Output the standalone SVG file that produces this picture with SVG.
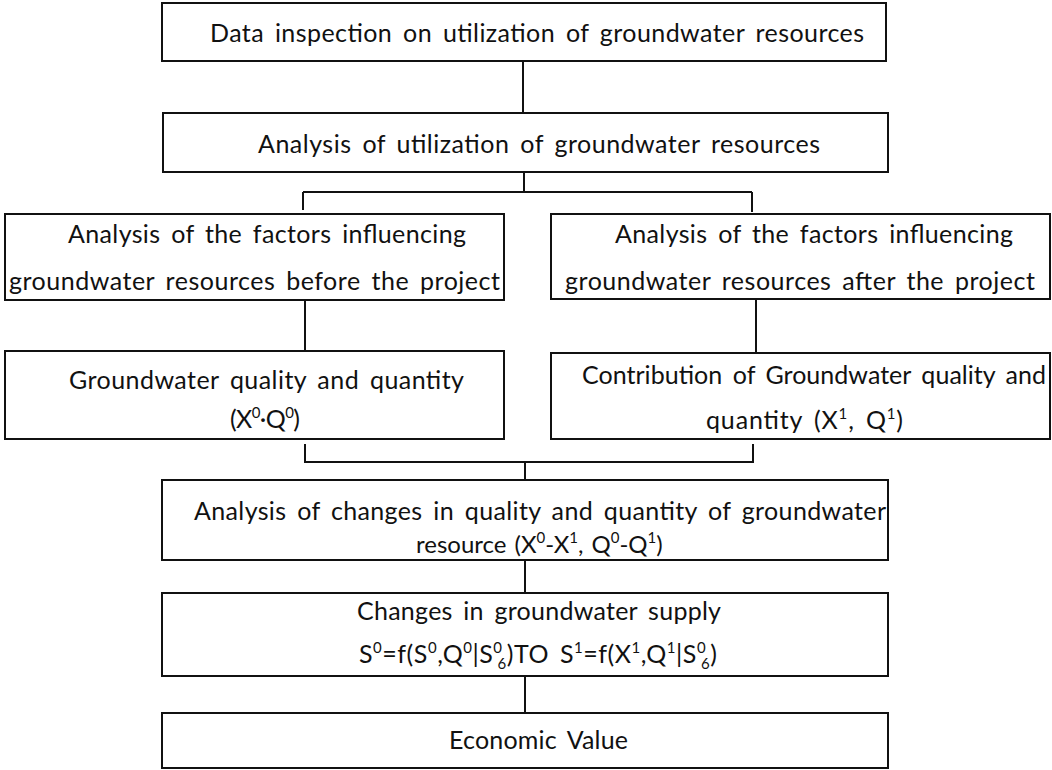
<svg xmlns="http://www.w3.org/2000/svg" width="1052" height="770" viewBox="0 0 1052 770">
<style>
.box{fill:#fff;stroke:#111;stroke-width:2}
.ln{fill:none;stroke:#111;stroke-width:2}
text{font-family:Lato,"Liberation Sans",sans-serif;font-size:25px;fill:#111;word-spacing:4px}
.sp{font-size:15px}
</style>
<rect width="1052" height="770" fill="#fff"/>
<g id="connectors">
<path class="ln" d="M523 61V113"/>
<path class="ln" d="M524 172V192M303 192H752M303 192V210M752 192V212"/>
<path class="ln" d="M305 300V351M756 300V353"/>
<path class="ln" d="M305 444V462H753V444M525 462V480"/>
<path class="ln" d="M525 560V607"/>
<path class="ln" d="M525 676V713"/>
</g>
<g id="n1"><rect class="box" x="162" y="3" width="724" height="58"/>
<text x="210" y="42" textLength="654" lengthAdjust="spacing">Data inspection on utilization of groundwater resources</text></g>
<g id="n2"><rect class="box" x="163" y="113" width="725" height="59"/>
<text x="258" y="153" textLength="562" lengthAdjust="spacing">Analysis of utilization of groundwater resources</text></g>
<g id="n3"><rect class="box" x="5" y="214" width="499" height="86"/>
<text x="68" y="243" textLength="398" lengthAdjust="spacing">Analysis of the factors influencing</text>
<text x="9" y="290" textLength="491" lengthAdjust="spacing">groundwater resources before the project</text></g>
<g id="n4"><rect class="box" x="551" y="214" width="499" height="85"/>
<text x="615" y="243" textLength="398" lengthAdjust="spacing">Analysis of the factors influencing</text>
<text x="565" y="290" textLength="470" lengthAdjust="spacing">groundwater resources after the project</text></g>
<g id="n5"><rect class="box" x="5" y="351" width="499" height="88"/>
<text x="69" y="389" textLength="395" lengthAdjust="spacing">Groundwater quality and quantity</text>
<text x="230" y="428" textLength="70" lengthAdjust="spacing">(X<tspan class="sp" dy="-10">0</tspan><tspan dy="10">·Q</tspan><tspan class="sp" dy="-10">0</tspan><tspan dy="10">)</tspan></text></g>
<g id="n6"><rect class="box" x="551" y="353" width="499" height="86"/>
<text x="582" y="384" textLength="464" lengthAdjust="spacing">Contribution of Groundwater quality and</text>
<text x="706" y="429" textLength="197" lengthAdjust="spacing">quantity (X<tspan class="sp" dy="-10">1</tspan><tspan dy="10">, Q</tspan><tspan class="sp" dy="-10">1</tspan><tspan dy="10">)</tspan></text></g>
<g id="n7"><rect class="box" x="162" y="480" width="726" height="80"/>
<text x="194" y="520" textLength="692" lengthAdjust="spacing">Analysis of changes in quality and quantity of groundwater</text>
<text x="416" y="553" style="font-size:24px;word-spacing:2px">resource (X<tspan class="sp" dy="-10">0</tspan><tspan dy="10">-X</tspan><tspan class="sp" dy="-10">1</tspan><tspan dy="10">, Q</tspan><tspan class="sp" dy="-10">0</tspan><tspan dy="10">-Q</tspan><tspan class="sp" dy="-10">1</tspan><tspan dy="10">)</tspan></text></g>
<g id="n8"><rect class="box" x="162" y="593" width="726" height="83"/>
<text x="357" y="620" textLength="364" lengthAdjust="spacing">Changes in groundwater supply</text>
<text x="359" y="663" textLength="358" lengthAdjust="spacing">S<tspan class="sp" dy="-10">0</tspan><tspan dy="10">=f(S</tspan><tspan class="sp" dy="-10">0</tspan><tspan dy="10">,Q</tspan><tspan class="sp" dy="-10">0</tspan><tspan dy="10">|S</tspan><tspan class="sp" dy="-10">0</tspan><tspan class="sp" dx="-5" dy="16">6</tspan><tspan dy="-6">)TO S</tspan><tspan class="sp" dy="-10">1</tspan><tspan dy="10">=f(X</tspan><tspan class="sp" dy="-10">1</tspan><tspan dy="10">,Q</tspan><tspan class="sp" dy="-10">1</tspan><tspan dy="10">|S</tspan><tspan class="sp" dy="-10">0</tspan><tspan class="sp" dx="-5" dy="16">6</tspan><tspan dy="-6">)</tspan></text></g>
<g id="n9"><rect class="box" x="162" y="713" width="726" height="55"/>
<text x="449" y="749" textLength="179" lengthAdjust="spacing">Economic Value</text></g>
</svg>
